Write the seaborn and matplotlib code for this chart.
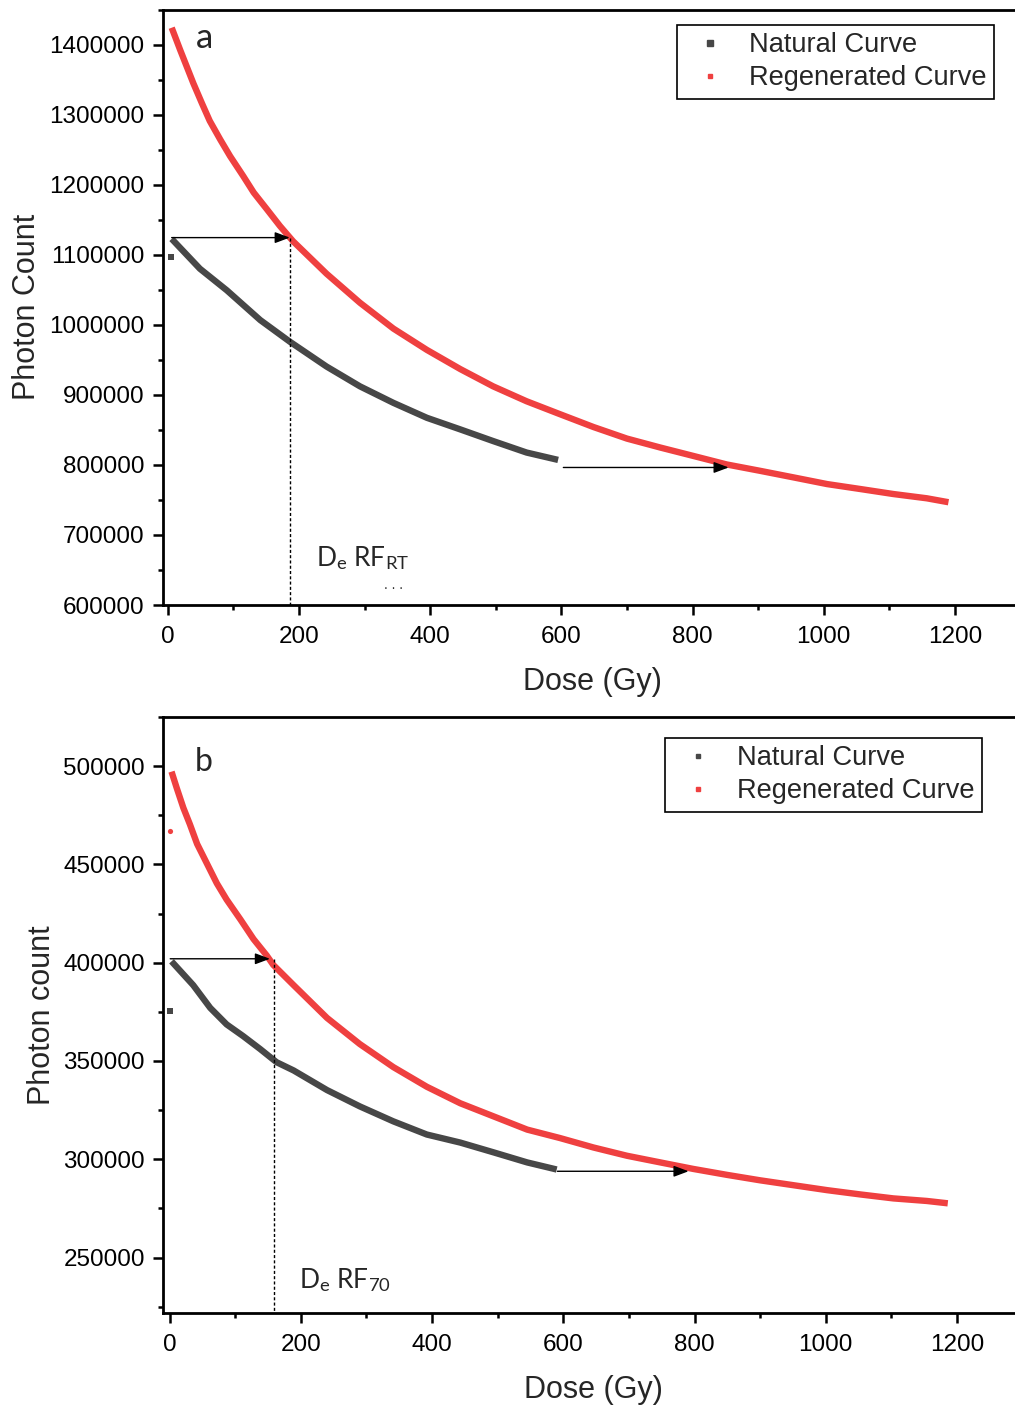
import matplotlib
matplotlib.use("Agg")
import matplotlib.pyplot as plt
from matplotlib.lines import Line2D
import seaborn as sns

# ---------------- data ----------------
dose_nat_a = [6, 49, 90, 141, 186, 242, 293, 344, 395, 446, 496, 547, 595]
count_nat_a = [1122600, 1080000, 1049200, 1006700, 975900, 940400, 912100,
               888500, 867200, 850600, 834000, 817600, 807100]
dose_nat_a_first = [5]
count_nat_a_first = [1096500]

dose_reg_a = [6, 19, 29, 39, 52, 64, 80, 95, 115, 131, 151, 171, 191, 242,
              293, 344, 395, 446, 496, 547, 598, 649, 700, 751, 801, 852, 903,
              954, 1005, 1056, 1106, 1157, 1190]
count_reg_a = [1424000, 1392100, 1368400, 1344700, 1316300, 1291000, 1264400,
               1240700, 1212300, 1188700, 1165000, 1141000, 1119200, 1072900,
               1031400, 994500, 964100, 936700, 912100, 890800, 872300,
               854000, 837500, 824700, 812800, 800600, 791500, 782100, 772600,
               765500, 758400, 752300, 746700]

dose_nat_b = [3, 36, 62, 87, 112, 138, 163, 189, 240, 290, 341, 392, 443, 494,
              545, 590]
count_nat_b = [400700, 388600, 377000, 368600, 362700, 356100, 349400, 345200,
               335200, 326900, 319300, 312600, 308500, 303500, 298400, 294800]
dose_nat_b_first = [1]
count_nat_b_first = [375300]

dose_reg_b = [3, 11, 21, 31, 42, 57, 72, 87, 108, 128, 148, 158, 189, 240,
              290, 341, 392, 443, 494, 545, 595, 646, 697, 748, 798, 849, 900,
              951, 1002, 1053, 1103, 1154, 1186]
count_reg_b = [497200, 488800, 478800, 470400, 460400, 450400, 440400, 432100,
               422000, 412000, 403700, 398900, 388600, 371900, 358600, 346900,
               336900, 328500, 321800, 315100, 310800, 306000, 301800, 298400,
               295100, 292100, 289300, 286800, 284300, 282100, 280100, 278800,
               277600]
dose_reg_b_first = [1]
count_reg_b_first = [466800]

# equivalent-dose construction (arrows)
arrow_a1 = (6, 186, 1124400)      # x_start, x_end, y
arrow_a2 = (603, 855, 796300)
de_a = 186
arrow_b1 = (1, 153, 402000)
arrow_b2 = (591, 791, 293900)
de_b = 159

xticks = [0, 200, 400, 600, 800, 1000, 1200]
yticks_a = [600000, 700000, 800000, 900000, 1000000, 1100000, 1200000,
            1300000, 1400000]
yticks_b = [250000, 300000, 350000, 400000, 450000, 500000]

labels = ["Natural Curve", "Regenerated Curve"]

# ---------------- style ----------------
sns.set_style("ticks")
plt.rcParams["font.family"] = ["Liberation Sans", "DejaVu Sans"]
plt.rcParams["mathtext.fontset"] = "custom"
plt.rcParams["mathtext.rm"] = "Lato"
plt.rcParams["mathtext.it"] = "Lato:italic"

RED = "#EF4040"
GRAY = "#474747"
LW = 4.6

fig = plt.figure(figsize=(10.15, 14.08), dpi=100)
W, H = 1015.0, 1408.0
ax1 = fig.add_axes([162.5 / W, 1 - 605 / H, (1018 - 162.5) / W, (605 - 9.5) / H])
ax2 = fig.add_axes([163 / W, 1 - 1313 / H, (1018 - 163) / W, (1313 - 717) / H])


def style_axes(ax, xlim, ylim, yticks, yminor, ylabel, ylabel_x):
    ax.set_xlim(*xlim)
    ax.set_ylim(*ylim)
    ax.set_xticks(xticks)
    ax.set_xticklabels([str(v) for v in xticks])
    ax.set_xticks(list(range(100, 1300, 200)), minor=True)
    ax.set_yticks(yticks)
    ax.set_yticklabels([str(v) for v in yticks])
    ax.set_yticks(yminor, minor=True)
    for s in ["left", "bottom", "top"]:
        ax.spines[s].set_visible(True)
        ax.spines[s].set_linewidth(2.0)
        ax.spines[s].set_color("black")
    ax.spines["right"].set_visible(False)
    ax.tick_params(which="major", direction="out", length=7, width=1.8,
                   labelsize=17.5, pad=6, colors="black")
    ax.tick_params(axis="x", which="major", pad=8)
    ax.tick_params(which="minor", direction="out", length=3.6, width=1.8,
                   colors="black")
    ax.tick_params(top=False, right=False, which="both")
    ax.set_xlabel("Dose (Gy)", fontsize=22)
    ax.set_ylabel(ylabel, fontsize=22)
    ax.xaxis.set_label_coords(0.503, -0.104)
    ax.yaxis.set_label_coords(ylabel_x, 0.5)


def draw_panel(ax, dn, cn, dr, cr, arrows, de, ybottom):
    sns.lineplot(x=dn, y=cn, ax=ax, color=GRAY, linewidth=LW, sort=False,
                 estimator=None, solid_capstyle="butt")
    sns.lineplot(x=dr, y=cr, ax=ax, color=RED, linewidth=LW, sort=False,
                 estimator=None, solid_capstyle="butt")
    for (x0, x1, y) in arrows:
        ax.annotate("", xy=(x1, y), xytext=(x0, y),
                    arrowprops=dict(arrowstyle="-|>,head_length=0.75,head_width=0.28",
                                    color="black", lw=1.0, mutation_scale=12,
                                    shrinkA=0, shrinkB=0))
    ax.plot([de, de], [arrows[0][2], ybottom], color="black", lw=1.0,
            linestyle=(0, (2.2, 1.6)))


# panel a
draw_panel(ax1, dose_nat_a, count_nat_a, dose_reg_a, count_reg_a,
           [arrow_a1, arrow_a2], de_a, 600000)
sns.scatterplot(x=dose_nat_a_first, y=count_nat_a_first, ax=ax1, color=GRAY,
                marker="s", s=22, linewidth=0)
style_axes(ax1, (-8, 1296), (600000, 1447000), yticks_a,
           [v + 50000 for v in yticks_a], "Photon Count", -0.141)
ax1.text(43, 1395300, "a", fontsize=25, family="Lato", va="baseline")
ax1.text(226, 654900, r"D$_\mathrm{e}$ RF$_\mathrm{RT}$", fontsize=19,
         family="Lato", va="baseline")
ax1.text(329, 627900, ". . .", fontsize=10, color="#333333", va="center")

# panel b
draw_panel(ax2, dose_nat_b, count_nat_b, dose_reg_b, count_reg_b,
           [arrow_b1, arrow_b2], de_b, 221800)
sns.scatterplot(x=dose_nat_b_first, y=count_nat_b_first, ax=ax2, color=GRAY,
                marker="s", s=14, linewidth=0)
sns.scatterplot(x=dose_reg_b_first, y=count_reg_b_first, ax=ax2, color=RED,
                marker="o", s=14, linewidth=0)
style_axes(ax2, (-10, 1293), (221800, 520400), yticks_b,
           [v - 25000 for v in yticks_b] + [525000], "Photon count", -0.124)
ax2.text(39, 497300, "b", fontsize=23, family="Lato", va="baseline")
ax2.text(197, 234300, r"D$_\mathrm{e}$ RF$_\mathrm{70}$", fontsize=19,
         family="Lato", va="baseline")


def add_legend(ax, fx, fy, ms_nat, ms_reg):
    handles = [Line2D([], [], marker="s", linestyle="none", color=GRAY,
                      markersize=ms_nat),
               Line2D([], [], marker="s", linestyle="none", color=RED,
                      markersize=ms_reg)]
    leg = ax.legend(handles, labels, loc="upper left",
                    bbox_to_anchor=(fx / W, 1 - fy / H),
                    bbox_transform=fig.transFigure, fontsize=19.6,
                    frameon=True, fancybox=False, framealpha=1,
                    edgecolor="black", borderaxespad=0, borderpad=0.26,
                    handlelength=1.9, handletextpad=0.5, labelspacing=0.27)
    leg.get_frame().set_linewidth(1.2)


add_legend(ax1, 677, 25, 4.0, 3.2)
add_legend(ax2, 665, 738, 3.0, 2.4)

fig.savefig("out.png", dpi=100)
